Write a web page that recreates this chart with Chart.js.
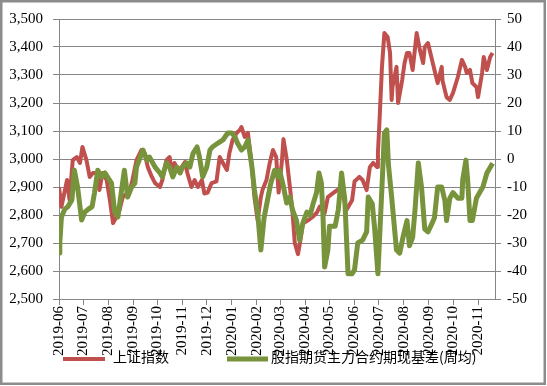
<!DOCTYPE html>
<html>
<head>
<meta charset="utf-8">
<script src="https://cdn.jsdelivr.net/npm/chart.js@4.4.0/dist/chart.umd.min.js"></script>
<style>
html, body { margin: 0; padding: 0; background: #fff; }
</style>
</head>
<body>
<canvas id="myChart" width="547" height="386"></canvas>
<script>
// month tick labels on the x axis
const monthLabels = ['2019-06','2019-07','2019-08','2019-09','2019-10','2019-11','2019-12',
    '2020-01','2020-02','2020-03','2020-04','2020-05','2020-06','2020-07','2020-08','2020-09','2020-10','2020-11'];

// 上证指数 : days since 2019-06-01 / close
const shDays = [0,3,10,13,17,22,26,29,34,38,42,47,50,54,59,63,67,71,75,79,84,88,91,96,102,106,110,115,119,125,
    128,133,137,140,143,147,152,156,159,164,168,172,177,180,184,189,195,199,203,208,211,215,220,224,226,230,234,
    239,242,246,250,252,257,261,265,269,272,276,278,282,286,289,292,296,299,302,308,314,319,323,329,333,339,345,
    351,356,363,366,372,376,381,385,389,394,395,397,400,403,407,410,412,413,418,420,425,428,431,434,438,443,447,
    451,453,457,462,465,469,474,475,480,484,488,494,499,503,505,509,512,517,519,524,526,530,534,537];
const shIndex = [2900,2829,2925,2854,2996,3007,2986,3043,2996,2936,2950,2950,2889,2950,2925,2854,2771,2793,2818,2864,
    2877,2890,2925,2996,3032,3021,2971,2936,2914,2900,2925,2996,3007,2950,2986,2961,2971,2989,2950,2900,2925,2900,
    2925,2877,2880,2914,2920,3007,2986,2961,3021,3068,3093,3104,3114,3079,3093,2971,2864,2782,2864,2889,2925,2986,
    3032,3007,2880,2990,3071,3000,2900,2818,2700,2660,2710,2770,2780,2793,2807,2830,2807,2864,2877,2890,2882,2818,
    2853,2920,2936,2925,2889,2971,2986,2971,3021,3139,3329,3450,3436,3379,3211,3257,3329,3200,3282,3343,3379,3379,
    3318,3450,3389,3343,3400,3414,3354,3318,3271,3329,3280,3221,3211,3236,3293,3354,3329,3307,3318,3271,3257,3221,
    3307,3364,3318,3364,3379];

// 股指期货主力合约期现基差(周均) : days since 2019-06-01 / basis
const basisDays = [0,1,3,7,11,16,19,23,28,32,36,41,44,48,53,57,60,65,69,73,78,81,85,90,94,96,104,109,112,119,125,
    128,133,137,141,146,150,153,158,162,166,171,174,178,183,187,190,197,203,209,214,218,221,226,230,234,239,242,246,
    250,254,258,262,267,271,273,277,282,286,289,294,298,302,307,311,315,319,322,325,327,329,333,335,342,346,350,354,
    358,363,366,370,376,381,383,388,391,395,400,403,406,408,412,418,422,426,431,434,438,441,445,449,453,457,462,465,
    469,474,478,480,484,488,494,499,500,504,506,509,512,517,521,525,530,534,537];
const basisValues = [-33.6,-30,-20.7,-18,-17,-14.6,-4,-10,-21.8,-19,-18,-17,-12,-4,-6.4,-5,-6.4,-8.6,-19,-20.7,-10,-4,
    -13.6,-10,-8.6,-2.9,3.2,-0.4,0.7,-2.9,-5,-6.4,-1.4,-2.9,-6.4,-2.9,-5,-2.9,-1.4,-2.9,2,4.3,0.7,-6.4,-2.9,3.2,4.3,
    5.7,6.8,9.3,9.3,7.9,5.7,3.2,4.3,6.8,-2.9,-11,-19,-32.5,-21,-15,-9,-4,-6.4,-4,-8.6,-15.7,-13.6,-18,-21.8,-29,
    -22.9,-19,-20,-15.7,-12,-5,-8.6,-20.7,-38.6,-32.5,-24,-24,-18,-5,-14.6,-41,-41,-39.6,-30,-29,-26,-13.6,-16,-25,
    -41,-10,9.3,10.4,-2,-13.6,-32.5,-33.6,-28,-22,-31,-28,-18,-1.4,-10,-25,-26,-23,-21,-10,-10,-15,-22,-14,-12,-14,
    -14,-7.5,-0.4,-7,-22,-22,-14,-12,-10,-5,-3,-1.5];

const startUTC = Date.UTC(2019, 5, 1);
const monthDays = monthLabels.map(function(s){
    let p = s.split('-');
    return (Date.UTC(+p[0], +p[1] - 1, 1) - startUTC) / 86400000;
});

function puntos(xs, ys){
    let out = [];
    for(let i = 0; i < xs.length; i++){
        out.push({x: xs[i], y: ys[i]});
    }
    return out;
}

const gris = '#868686';
const serif = "'Liberation Serif', 'Times New Roman', serif";

// marco exterior + leyenda (la leyenda se solapa con las etiquetas del eje x, como en Excel)
const marco = {
    id: 'marco',
    afterDraw(chart){
        let ctx = chart.ctx;
        ctx.save();
        ctx.strokeStyle = '#8c8c8c';
        ctx.lineWidth = 2.5;
        ctx.strokeRect(1.25, 1.25, 543.5, 382.5);

        let items = [
            {ds: 0, x1: 63, x2: 105, tx: 113},
            {ds: 1, x1: 227, x2: 268, tx: 271}
        ];
        ctx.font = "14px 'Noto Sans CJK SC', sans-serif";
        ctx.textBaseline = 'middle';
        ctx.textAlign = 'left';
        items.forEach(function(it){
            let ds = chart.data.datasets[it.ds];
            ctx.strokeStyle = ds.borderColor;
            ctx.lineWidth = ds.borderWidth;
            ctx.lineCap = 'butt';
            ctx.beginPath();
            ctx.moveTo(it.x1, 359);
            ctx.lineTo(it.x2, 359);
            ctx.stroke();
            ctx.fillStyle = '#000';
            ctx.fillText(ds.label, it.tx, 357);
        });
        ctx.restore();
    }
};

let myChart = new Chart(document.getElementById('myChart'), {
    type: 'line',
    data: {
        datasets: [{
            label: '上证指数',
            data: puntos(shDays, shIndex),
            yAxisID: 'y',
            borderColor: 'rgb(192,80,77)',
            backgroundColor: 'rgb(192,80,77)',
            borderWidth: 4,
            pointRadius: 0,
            tension: 0,
            borderJoinStyle: 'round',
            order: 1
        }, {
            label: '股指期货主力合约期现基差(周均)',
            data: puntos(basisDays, basisValues),
            yAxisID: 'y1',
            borderColor: 'rgb(119,147,60)',
            backgroundColor: 'rgb(119,147,60)',
            borderWidth: 5,
            pointRadius: 0,
            tension: 0,
            borderJoinStyle: 'round',
            order: 0
        }]
    },
    options: {
        responsive: false,
        animation: false,
        layout: { padding: { top: 19, left: 0, right: 0, bottom: 27 } },
        plugins: {
            tooltip: { enabled: false },
            legend: { display: false }
        },
        scales: {
            x: {
                type: 'linear',
                min: 0,
                max: 540,
                afterBuildTicks: function(axis){
                    axis.ticks = monthDays.map(function(v){ return {value: v}; });
                },
                afterFit: function(axis){ axis.height = 60; },
                grid: { drawOnChartArea: false, color: gris, tickLength: 6 },
                border: { color: gris },
                ticks: {
                    autoSkip: false,
                    maxRotation: 90,
                    minRotation: 90,
                    padding: 1,
                    color: '#000',
                    font: { family: serif, size: 15 },
                    callback: function(v){
                        let i = monthDays.indexOf(v);
                        return i >= 0 ? monthLabels[i] : '';
                    }
                }
            },
            y: {
                position: 'left',
                min: 2500,
                max: 3500,
                afterFit: function(axis){ axis.width = 59; },
                grid: { color: gris, tickLength: 6 },
                border: { color: gris },
                ticks: {
                    stepSize: 100,
                    padding: 10,
                    color: '#000',
                    font: { family: serif, size: 15 },
                    callback: function(v){ return v.toLocaleString('en-US'); }
                }
            },
            y1: {
                position: 'right',
                min: -50,
                max: 50,
                afterFit: function(axis){ axis.width = 52; },
                grid: { drawOnChartArea: false, color: gris, tickLength: 6 },
                border: { color: gris },
                ticks: {
                    stepSize: 10,
                    padding: 6,
                    color: '#000',
                    font: { family: serif, size: 15 }
                }
            }
        }
    },
    plugins: [marco]
});
</script>
</body>
</html>
